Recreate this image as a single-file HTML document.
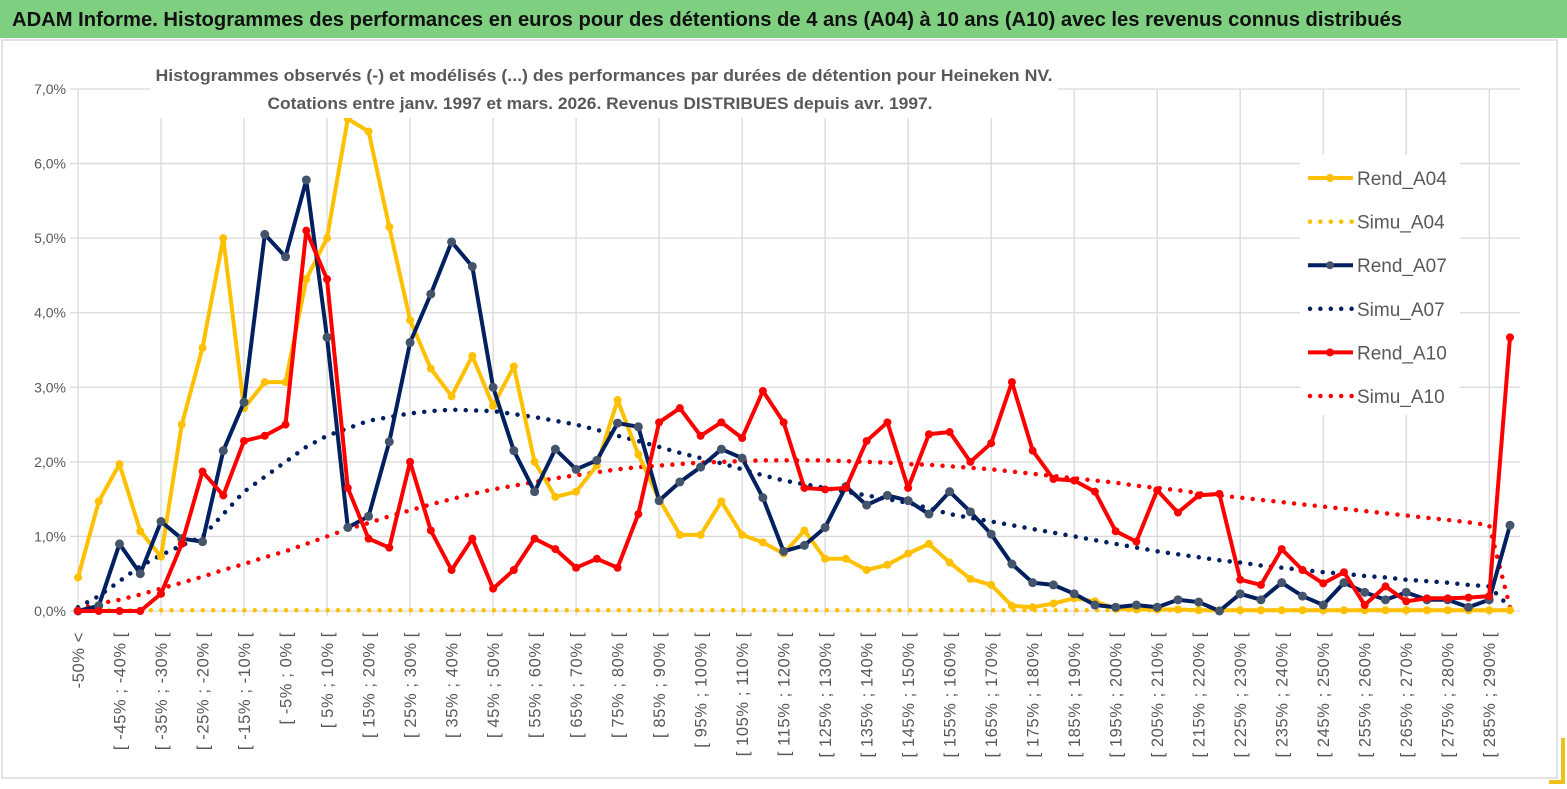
<!DOCTYPE html>
<html><head><meta charset="utf-8">
<style>
html,body{margin:0;padding:0;background:#fff;}
svg{display:block;font-family:"Liberation Sans",sans-serif;}
</style></head>
<body>
<svg id="chart" width="1567" height="789" viewBox="0 0 1567 789" xmlns="http://www.w3.org/2000/svg">
  <rect x="0" y="0" width="1567" height="789" fill="#fff"/>
  <rect x="0" y="0" width="1567" height="38" fill="#7fcf80"/>
  <text x="12" y="26" font-size="20" font-weight="bold" fill="#111" textLength="1390" lengthAdjust="spacingAndGlyphs">ADAM Informe. Histogrammes des performances en euros pour des détentions de 4 ans (A04) à 10 ans (A10) avec les revenus connus distribués</text>
  <rect x="2" y="40" width="1555" height="738" fill="none" stroke="#d9d9d9" stroke-width="1.5"/>
  <path d="M1563 738 V782 H1549" fill="none" stroke="#f2c01c" stroke-width="4"/>
  <g id="grid"></g>
  <g id="ylabels"></g>
  <g id="xlabels"></g>
  <g id="series"></g>
  <rect x="150" y="58" width="908" height="60" fill="#fff"/>
  <text x="604" y="81" font-size="17" font-weight="bold" fill="#595959" text-anchor="middle" textLength="897" lengthAdjust="spacingAndGlyphs">Histogrammes observés (-) et modélisés (...)  des performances par durées de détention pour Heineken NV.</text>
  <text x="600" y="109" font-size="17" font-weight="bold" fill="#595959" text-anchor="middle" textLength="665" lengthAdjust="spacingAndGlyphs">Cotations entre janv. 1997 et mars. 2026.  Revenus DISTRIBUES depuis avr. 1997.</text>
  <rect x="1300" y="155" width="160" height="260" fill="#fff"/>
  <g id="legend"></g>
</svg>
<script>
const categories = ["-50% <"];
for (let k = -50; k < 295; k += 5) categories.push("[ " + k + "% ; " + (k + 5) + "% [");
const rendA04 = [0.45,1.47,1.97,1.07,0.73,2.5,3.53,5.0,2.72,3.07,3.07,4.45,5.0,6.6,6.43,5.15,3.9,3.25,2.88,3.42,2.75,3.28,2.0,1.53,1.6,1.95,2.83,2.1,1.5,1.02,1.02,1.47,1.02,0.92,0.77,1.08,0.7,0.7,0.55,0.62,0.77,0.9,0.65,0.43,0.35,0.07,0.05,0.1,0.17,0.13,0.03,0.02,0.02,0.02,0.01,0.01,0.01,0.01,0.01,0.01,0.01,0.01,0.01,0.01,0.01,0.01,0.01,0.01,0.01,0.01];
const simuA04 = [0.01,0.01,0.01,0.01,0.01,0.01,0.01,0.01,0.01,0.01,0.01,0.01,0.01,0.01,0.01,0.01,0.01,0.01,0.01,0.01,0.01,0.01,0.01,0.01,0.01,0.01,0.01,0.01,0.01,0.01,0.01,0.01,0.01,0.01,0.01,0.01,0.01,0.01,0.01,0.01,0.01,0.01,0.01,0.01,0.01,0.01,0.01,0.01,0.01,0.01,0.01,0.01,0.01,0.01,0.01,0.01,0.01,0.01,0.01,0.01,0.01,0.01,0.01,0.01,0.01,0.01,0.01,0.01,0.01,0.01];
const rendA07 = [0.0,0.07,0.9,0.5,1.2,0.97,0.93,2.15,2.8,5.05,4.75,5.78,3.67,1.12,1.27,2.27,3.6,4.25,4.95,4.62,3.0,2.15,1.6,2.17,1.9,2.02,2.52,2.47,1.48,1.73,1.93,2.17,2.05,1.52,0.8,0.88,1.12,1.67,1.42,1.55,1.48,1.3,1.6,1.33,1.03,0.63,0.38,0.35,0.23,0.08,0.05,0.08,0.05,0.15,0.12,0.0,0.23,0.15,0.38,0.2,0.08,0.38,0.25,0.15,0.25,0.15,0.15,0.05,0.15,1.15];
const simuA07 = [0.05,0.2,0.4,0.6,0.75,0.88,1.0,1.3,1.6,1.8,2.0,2.2,2.35,2.45,2.55,2.6,2.65,2.68,2.7,2.69,2.68,2.64,2.6,2.55,2.5,2.43,2.35,2.28,2.2,2.12,2.05,1.98,1.9,1.82,1.75,1.7,1.65,1.6,1.55,1.5,1.45,1.38,1.3,1.25,1.2,1.15,1.1,1.05,1.0,0.95,0.9,0.85,0.8,0.76,0.72,0.68,0.65,0.61,0.58,0.55,0.52,0.5,0.47,0.45,0.42,0.4,0.38,0.35,0.33,0.05];
const rendA10 = [0,0,0,0,0.23,0.9,1.87,1.55,2.28,2.35,2.5,5.1,4.45,1.65,0.97,0.85,2.0,1.08,0.55,0.97,0.3,0.55,0.97,0.83,0.58,0.7,0.58,1.3,2.53,2.72,2.35,2.53,2.32,2.95,2.53,1.65,1.63,1.65,2.28,2.53,1.65,2.37,2.4,2.0,2.25,3.07,2.15,1.77,1.75,1.6,1.07,0.93,1.62,1.32,1.55,1.57,0.42,0.35,0.83,0.55,0.37,0.52,0.08,0.33,0.13,0.17,0.17,0.18,0.2,3.67];
const simuA10 = [0.02,0.1,0.15,0.22,0.3,0.38,0.46,0.55,0.63,0.72,0.8,0.9,1.0,1.1,1.18,1.27,1.35,1.43,1.5,1.57,1.63,1.68,1.73,1.78,1.82,1.86,1.9,1.93,1.95,1.97,1.99,2.0,2.01,2.02,2.02,2.02,2.02,2.01,2.0,1.99,1.97,1.96,1.94,1.92,1.9,1.87,1.84,1.81,1.78,1.75,1.72,1.68,1.65,1.62,1.58,1.55,1.52,1.49,1.46,1.43,1.4,1.37,1.34,1.31,1.28,1.25,1.22,1.19,1.15,0.05];
const yTicks = [0,1,2,3,4,5,6,7];
const yTickLabels = ["0,0%","1,0%","2,0%","3,0%","4,0%","5,0%","6,0%","7,0%"];
const legendLabels = ["Rend_A04","Simu_A04","Rend_A07","Simu_A07","Rend_A10","Simu_A10"];

const NS = "http://www.w3.org/2000/svg";
const X0 = 78, X1 = 1510, Y0 = 611, Y7 = 89;
const n = categories.length;
function xs(i){ return X0 + (X1 - X0) * i / (n - 1); }
function ys(v){ return Y0 - (Y0 - Y7) * v / 7; }
function mk(tag, attrs, parent){ const e = document.createElementNS(NS, tag); for (const k in attrs) e.setAttribute(k, attrs[k]); parent.appendChild(e); return e; }

const grid = document.getElementById('grid');
yTicks.forEach((t, j) => {
  const l = mk('line', {x1: 70, x2: 1520, y1: ys(t), y2: ys(t), stroke: '#d9d9d9', 'stroke-width': 1.3}, grid);
  
  
  const tx = mk('text', {x: 66, y: ys(t) + 5, 'font-size': 14, fill: '#595959', 'text-anchor': 'end'}, document.getElementById('ylabels'));
  tx.textContent = yTickLabels[j];
  
  
});
for (let i = 0; i < n; i += 4) {
  const l = mk('line', {x1: xs(i), x2: xs(i), y1: Y7, y2: Y0 + 5, stroke: '#d9d9d9', 'stroke-width': 1.3}, grid);
  
  
}
const xl = document.getElementById('xlabels');
for (let i = 0; i < n; i += 2) {
  const x = xs(i) + 6, y = 632;
  const t = mk('text', {x: x, y: y, 'font-size': 16.5, fill: '#595959', 'text-anchor': 'end', 'letter-spacing': '0.6', transform: 'rotate(-90 ' + x + ' ' + y + ')'}, xl);
  t.textContent = categories[i];
  
  
}
const sg = document.getElementById('series');
function pts(arr){ return arr.map((v, i) => xs(i).toFixed(1) + ',' + ys(v).toFixed(1)).join(' '); }
function dotted(arr, color, name){
  const p = mk('polyline', {points: pts(arr), fill: 'none', stroke: color, 'stroke-width': 4.5, 'stroke-linecap': 'round', 'stroke-dasharray': '0 10.4'}, sg);
  
  
}
function solid(arr, color, mcolor, r, name){
  const g = mk('g', {}, sg);
  
  
  mk('polyline', {points: pts(arr), fill: 'none', stroke: color, 'stroke-width': 4, 'stroke-linejoin': 'round'}, g);
  arr.forEach((v, i) => {
    const c = mk('circle', {cx: xs(i), cy: ys(v), r: r, fill: mcolor}, g);
    
    
  });
}
dotted(simuA04, '#ffc000', 'simu-a04-line');
dotted(simuA10, '#ff0000', 'simu-a10-line');
dotted(simuA07, '#002060', 'simu-a07-line');
solid(rendA04, '#ffc000', '#ffc000', 4, 'rend-a04-line');
solid(rendA07, '#002060', '#44546a', 4.5, 'rend-a07-line');
solid(rendA10, '#ff0000', '#ff0000', 4, 'rend-a10-line');

const lg = document.getElementById('legend');
const lcolors = ['#ffc000','#ffc000','#002060','#002060','#ff0000','#ff0000'];
const mcolors = ['#ffc000','#ffc000','#44546a','#44546a','#ff0000','#ff0000'];
legendLabels.forEach((lab, j) => {
  const y = 178 + j * 43.6;
  const g = mk('g', {}, lg);
  
  
  if (j % 2 === 0) {
    mk('line', {x1: 1308, x2: 1353, y1: y, y2: y, stroke: lcolors[j], 'stroke-width': 4}, g);
    mk('circle', {cx: 1330, cy: y, r: 4, fill: mcolors[j]}, g);
  } else {
    mk('line', {x1: 1310, x2: 1353, y1: y, y2: y, stroke: lcolors[j], 'stroke-width': 4.5, 'stroke-linecap': 'round', 'stroke-dasharray': '0 10.4'}, g);
  }
  const t = mk('text', {x: 1357, y: y + 7, 'font-size': 19, fill: '#595959'}, g);
  t.textContent = lab;
});
</script>
</body></html>
